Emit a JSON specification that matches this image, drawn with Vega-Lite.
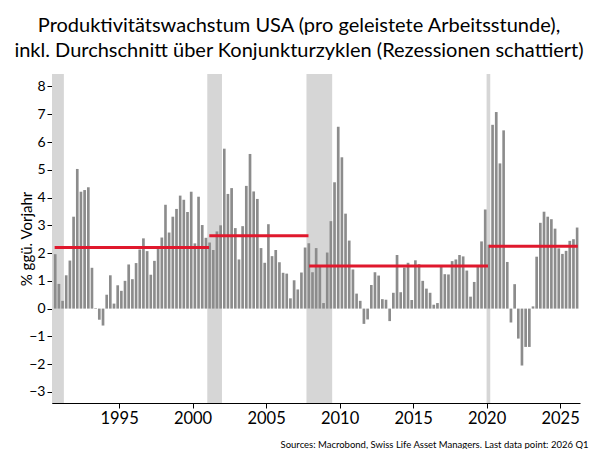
{
  "$schema": "https://vega.github.io/schema/vega-lite/v6.json",
  "width": 528,
  "height": 329,
  "autosize": {"type": "none"},
  "padding": {"left": 52, "top": 74, "right": 10, "bottom": 46},
  "background": "white",
  "title": {
    "text": ["Produktivitätswachstum USA (pro geleistete Arbeitsstunde),", "inkl. Durchschnitt über Konjunkturzyklen (Rezessionen schattiert)"],
    "fontSize": 20, "font": "Lato", "fontWeight": "normal", "color": "#000",
    "lineHeight": 25, "anchor": "middle", "offset": 13, "dx": -17
  },
  "datasets": {
    "rec": [
      {"start": "1990-06-01", "end": "1991-04-01"},
      {"start": "2001-01-01", "end": "2002-01-01"},
      {"start": "2007-10-01", "end": "2009-07-01"},
      {"start": "2020-01-01", "end": "2020-04-01"}
    ],
    "avg": [
      {"start": "1990-08-15", "end": "2001-02-15", "avg": 2.2},
      {"start": "2001-02-20", "end": "2007-11-20", "avg": 2.62},
      {"start": "2007-12-08", "end": "2020-02-05", "avg": 1.53},
      {"start": "2020-02-25", "end": "2026-03-15", "avg": 2.25}
    ],
    "prod": [
      {"date": "1990-07-01", "value": 1.96},
      {"date": "1990-10-01", "value": 0.89},
      {"date": "1991-01-01", "value": 0.28},
      {"date": "1991-04-01", "value": 1.2},
      {"date": "1991-07-01", "value": 1.73},
      {"date": "1991-10-01", "value": 3.31},
      {"date": "1992-01-01", "value": 5.03},
      {"date": "1992-04-01", "value": 4.21},
      {"date": "1992-07-01", "value": 4.27},
      {"date": "1992-10-01", "value": 4.37},
      {"date": "1993-01-01", "value": 1.47},
      {"date": "1993-04-01", "value": 0.02},
      {"date": "1993-07-01", "value": -0.4},
      {"date": "1993-10-01", "value": -0.61},
      {"date": "1994-01-01", "value": 0.5},
      {"date": "1994-04-01", "value": 1.2},
      {"date": "1994-07-01", "value": 0.18},
      {"date": "1994-10-01", "value": 0.84},
      {"date": "1995-01-01", "value": 0.64},
      {"date": "1995-04-01", "value": 1.0},
      {"date": "1995-07-01", "value": 1.59},
      {"date": "1995-10-01", "value": 1.06},
      {"date": "1996-01-01", "value": 1.64},
      {"date": "1996-04-01", "value": 2.13},
      {"date": "1996-07-01", "value": 2.53},
      {"date": "1996-10-01", "value": 2.07},
      {"date": "1997-01-01", "value": 1.22},
      {"date": "1997-04-01", "value": 1.72},
      {"date": "1997-07-01", "value": 2.17},
      {"date": "1997-10-01", "value": 2.56},
      {"date": "1998-01-01", "value": 3.74},
      {"date": "1998-04-01", "value": 2.74},
      {"date": "1998-07-01", "value": 3.31},
      {"date": "1998-10-01", "value": 3.59},
      {"date": "1999-01-01", "value": 4.07},
      {"date": "1999-04-01", "value": 3.92},
      {"date": "1999-07-01", "value": 3.48},
      {"date": "1999-10-01", "value": 4.21},
      {"date": "2000-01-01", "value": 2.35},
      {"date": "2000-04-01", "value": 4.03},
      {"date": "2000-07-01", "value": 3.01},
      {"date": "2000-10-01", "value": 2.55},
      {"date": "2001-01-01", "value": 2.38},
      {"date": "2001-04-01", "value": 2.11},
      {"date": "2001-07-01", "value": 2.78},
      {"date": "2001-10-01", "value": 3.0},
      {"date": "2002-01-01", "value": 5.76},
      {"date": "2002-04-01", "value": 4.13},
      {"date": "2002-07-01", "value": 4.34},
      {"date": "2002-10-01", "value": 2.9},
      {"date": "2003-01-01", "value": 1.77},
      {"date": "2003-04-01", "value": 2.97},
      {"date": "2003-07-01", "value": 4.42},
      {"date": "2003-10-01", "value": 5.57},
      {"date": "2004-01-01", "value": 4.22},
      {"date": "2004-04-01", "value": 3.95},
      {"date": "2004-07-01", "value": 2.18},
      {"date": "2004-10-01", "value": 1.65},
      {"date": "2005-01-01", "value": 3.04},
      {"date": "2005-04-01", "value": 1.89},
      {"date": "2005-07-01", "value": 2.11},
      {"date": "2005-10-01", "value": 1.67},
      {"date": "2006-01-01", "value": 1.29},
      {"date": "2006-04-01", "value": 1.26},
      {"date": "2006-07-01", "value": 0.37},
      {"date": "2006-10-01", "value": 1.02},
      {"date": "2007-01-01", "value": 0.69},
      {"date": "2007-04-01", "value": 1.3},
      {"date": "2007-07-01", "value": 2.2},
      {"date": "2007-10-01", "value": 2.35},
      {"date": "2008-01-01", "value": 1.31},
      {"date": "2008-04-01", "value": 2.18},
      {"date": "2008-07-01", "value": 1.5},
      {"date": "2008-10-01", "value": 0.2},
      {"date": "2009-01-01", "value": 2.02},
      {"date": "2009-04-01", "value": 3.15},
      {"date": "2009-07-01", "value": 4.55},
      {"date": "2009-10-01", "value": 6.55},
      {"date": "2010-01-01", "value": 5.45},
      {"date": "2010-04-01", "value": 3.42},
      {"date": "2010-07-01", "value": 2.45},
      {"date": "2010-10-01", "value": 1.41},
      {"date": "2011-01-01", "value": 0.54},
      {"date": "2011-04-01", "value": 0.28},
      {"date": "2011-07-01", "value": -0.55},
      {"date": "2011-10-01", "value": -0.39},
      {"date": "2012-01-01", "value": 0.85},
      {"date": "2012-04-01", "value": 1.31},
      {"date": "2012-07-01", "value": 1.19},
      {"date": "2012-10-01", "value": 0.34},
      {"date": "2013-01-01", "value": 0.32},
      {"date": "2013-04-01", "value": -0.45},
      {"date": "2013-07-01", "value": 0.57},
      {"date": "2013-10-01", "value": 1.93},
      {"date": "2014-01-01", "value": 0.59},
      {"date": "2014-04-01", "value": 1.48},
      {"date": "2014-07-01", "value": 1.65},
      {"date": "2014-10-01", "value": 0.31},
      {"date": "2015-01-01", "value": 1.74},
      {"date": "2015-04-01", "value": 1.6},
      {"date": "2015-07-01", "value": 1.0},
      {"date": "2015-10-01", "value": 0.72},
      {"date": "2016-01-01", "value": 0.57},
      {"date": "2016-04-01", "value": 0.14},
      {"date": "2016-07-01", "value": 0.2},
      {"date": "2016-10-01", "value": 1.5},
      {"date": "2017-01-01", "value": 1.24},
      {"date": "2017-04-01", "value": 1.23},
      {"date": "2017-07-01", "value": 1.71},
      {"date": "2017-10-01", "value": 1.77},
      {"date": "2018-01-01", "value": 1.93},
      {"date": "2018-04-01", "value": 1.88},
      {"date": "2018-07-01", "value": 1.37},
      {"date": "2018-10-01", "value": 0.43},
      {"date": "2019-01-01", "value": 0.96},
      {"date": "2019-04-01", "value": 1.5},
      {"date": "2019-07-01", "value": 2.42},
      {"date": "2019-10-01", "value": 3.57},
      {"date": "2020-01-01", "value": 2.3},
      {"date": "2020-04-01", "value": 6.62},
      {"date": "2020-07-01", "value": 7.08},
      {"date": "2020-10-01", "value": 5.23},
      {"date": "2021-01-01", "value": 6.42},
      {"date": "2021-04-01", "value": 1.68},
      {"date": "2021-07-01", "value": -0.5},
      {"date": "2021-10-01", "value": 0.88},
      {"date": "2022-01-01", "value": -1.08},
      {"date": "2022-04-01", "value": -2.05},
      {"date": "2022-07-01", "value": -1.38},
      {"date": "2022-10-01", "value": -1.38},
      {"date": "2023-01-01", "value": 0.08},
      {"date": "2023-04-01", "value": 1.87},
      {"date": "2023-07-01", "value": 3.09},
      {"date": "2023-10-01", "value": 3.49},
      {"date": "2024-01-01", "value": 3.31},
      {"date": "2024-04-01", "value": 3.22},
      {"date": "2024-07-01", "value": 2.88},
      {"date": "2024-10-01", "value": 2.17},
      {"date": "2025-01-01", "value": 1.97},
      {"date": "2025-04-01", "value": 2.08},
      {"date": "2025-07-01", "value": 2.44},
      {"date": "2025-10-01", "value": 2.5},
      {"date": "2026-01-01", "value": 2.92}
    ]
  },
  "layer": [
    {
      "data": {"name": "rec"},
      "mark": {"type": "rect", "color": "#d6d6d6", "clip": true},
      "encoding": {
        "x": {
          "field": "start", "type": "temporal",
          "scale": {"type": "utc", "domain": [{"year": 1990, "month": 6, "date": 10, "utc": true}, {"year": 2026, "month": 5, "date": 10, "utc": true}]},
          "title": "Sources: Macrobond, Swiss Life Asset Managers. Last data point: 2026 Q1",
          "axis": {
            "values": [{"year": 1995, "utc": true}, {"year": 2000, "utc": true}, {"year": 2005, "utc": true}, {"year": 2010, "utc": true}, {"year": 2015, "utc": true}, {"year": 2020, "utc": true}, {"year": 2025, "utc": true}],
            "labelExpr": "utcFormat(datum.value, '%Y')", "labelFontSize": 16.5,
            "labelPadding": 2,
            "titleFontSize": 9.5, "titleAnchor": "end", "titleAlign": "right",
            "titleX": 536, "titleY": 41, "titleBaseline": "middle"
          }
        },
        "x2": {"field": "end"}
      }
    },
    {
      "data": {"name": "prod"},
      "mark": {"type": "bar", "color": "#8c8c8c"},
      "encoding": {
        "x": {
          "field": "date", "timeUnit": "utcyearquarter", "type": "temporal", "scale": {"type": "utc"},
          "title": "Sources: Macrobond, Swiss Life Asset Managers. Last data point: 2026 Q1",
          "axis": {
            "values": [{"year": 1995, "utc": true}, {"year": 2000, "utc": true}, {"year": 2005, "utc": true}, {"year": 2010, "utc": true}, {"year": 2015, "utc": true}, {"year": 2020, "utc": true}, {"year": 2025, "utc": true}],
            "labelExpr": "utcFormat(datum.value, '%Y')", "labelFontSize": 16.5,
            "labelPadding": 2,
            "titleFontSize": 9.5, "titleAnchor": "end", "titleAlign": "right",
            "titleX": 536, "titleY": 41, "titleBaseline": "middle"
          }
        },
        "y": {
          "field": "value", "type": "quantitative",
          "scale": {"domain": [-3.4, 8.45], "nice": false, "zero": false},
          "title": "% ggü. Vorjahr",
          "axis": {"values": [-3, -2, -1, 0, 1, 2, 3, 4, 5, 6, 7, 8], "labelOverlap": false, "labelFontSize": 14, "titleFontSize": 15, "titlePadding": -6}
        }
      }
    },
    {
      "data": {"name": "avg"},
      "mark": {"type": "rule", "color": "#e0182d", "strokeWidth": 3},
      "encoding": {
        "x": {"field": "start", "type": "temporal", "scale": {"type": "utc"}, "title": "Sources: Macrobond, Swiss Life Asset Managers. Last data point: 2026 Q1"},
        "x2": {"field": "end"},
        "y": {
          "field": "avg", "type": "quantitative", "title": "% ggü. Vorjahr",
          "axis": {"values": [-3, -2, -1, 0, 1, 2, 3, 4, 5, 6, 7, 8], "labelOverlap": false, "labelFontSize": 14, "titleFontSize": 15, "titlePadding": -6}
        }
      }
    }
  ],
  "config": {
    "font": "Lato",
    "view": {"stroke": null},
    "axis": {
      "grid": false, "domainColor": "#000", "tickColor": "#000", "labelColor": "#000",
      "labelFont": "Lato", "tickSize": 5, "titleFontWeight": "normal",
      "titleColor": "#000", "titleFont": "Lato"
    }
  }
}
